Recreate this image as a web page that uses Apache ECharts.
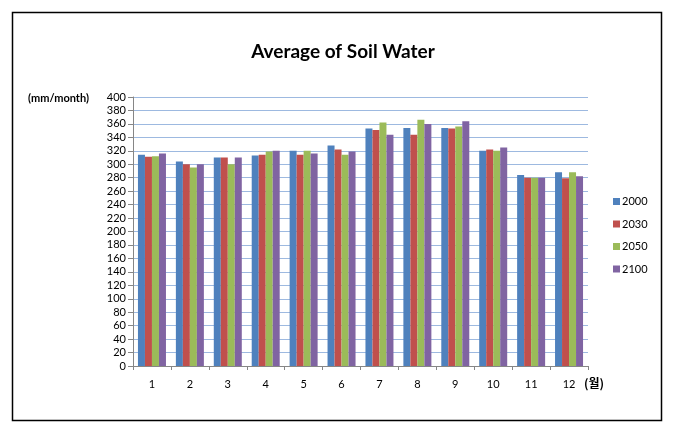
<!DOCTYPE html>
<html><head><meta charset="utf-8">
<script src="https://cdn.jsdelivr.net/npm/echarts@6/dist/echarts.min.js"></script>
<style>html,body{margin:0;padding:0;background:#fff}#c{width:674px;height:428px}</style>
</head><body><div id="c"></div>
<script>
const months = ['1','2','3','4','5','6','7','8','9','10','11','12'];
const s2000 = [314, 304, 310, 313, 320, 328, 353, 354, 354, 320, 284, 288];
const s2030 = [311, 300, 310, 314, 314, 322, 351, 344, 353, 322, 280, 279];
const s2050 = [312, 295, 300, 319, 320, 314, 362, 366, 356, 320, 280, 288];
const s2100 = [316, 300, 310, 320, 316, 319, 344, 360, 364, 325, 280, 282];
const seriesNames = ['2000','2030','2050','2100'];
const colors = ['#4F81BD','#C0504D','#9BBB59','#8064A2'];
const font = 'Lato, "Open Sans", sans-serif';
const chart = echarts.init(document.getElementById('c'));
const data = [s2000, s2030, s2050, s2100];
chart.setOption({
  animation: false,
  color: colors,
  title: { text: 'Average of Soil Water', left: 338, top: 37, textAlign: 'center',
    textStyle: { fontFamily: font, fontWeight: 'bold', fontSize: 19, color: '#000' } },
  legend: { orient: 'vertical', left: 608, top: 191, itemWidth: 7, itemHeight: 7, itemGap: 11.5,
    icon: 'rect', textStyle: { fontFamily: font, fontSize: 11, color: '#000', padding: [0,0,0,-3] }, data: seriesNames },
  grid: { left: 133, right: 86, top: 97, bottom: 62 },
  xAxis: { type: 'category', data: months,
    axisLine: { lineStyle: { color: '#868686' } },
    axisTick: { show: true, length: 4, lineStyle: { color: '#868686' } },
    axisLabel: { fontFamily: font, fontSize: 11, color: '#000', margin: 13 } },
  yAxis: { type: 'value', min: 0, max: 400, interval: 20,
    axisLine: { show: true, lineStyle: { color: '#868686' } },
    axisTick: { show: true, length: 5, lineStyle: { color: '#868686' } },
    splitLine: { lineStyle: { color: '#9DB9E0', width: 1 } },
    axisLabel: { fontFamily: font, fontSize: 11, color: '#000', margin: 7 } },
  series: seriesNames.map((n, i) => ({ name: n, type: 'bar', data: data[i], barWidth: 7, barGap: '0%' })),
  graphic: [
    { type: 'rect', shape: { x: 12.5, y: 12.5, width: 649, height: 408 }, style: { fill: 'none', stroke: '#000', lineWidth: 1.5 }, z: -1 },
    { type: 'text', left: 28, top: 93, style: { text: '(mm/month)', font: 'bold 11px ' + font, fill: '#000' } },
    { type: 'text', left: 584, top: 377, style: { text: '(월)', font: 'bold 12px "Noto Sans CJK KR", sans-serif', fill: '#000' } }
  ]
});
</script></body></html>
